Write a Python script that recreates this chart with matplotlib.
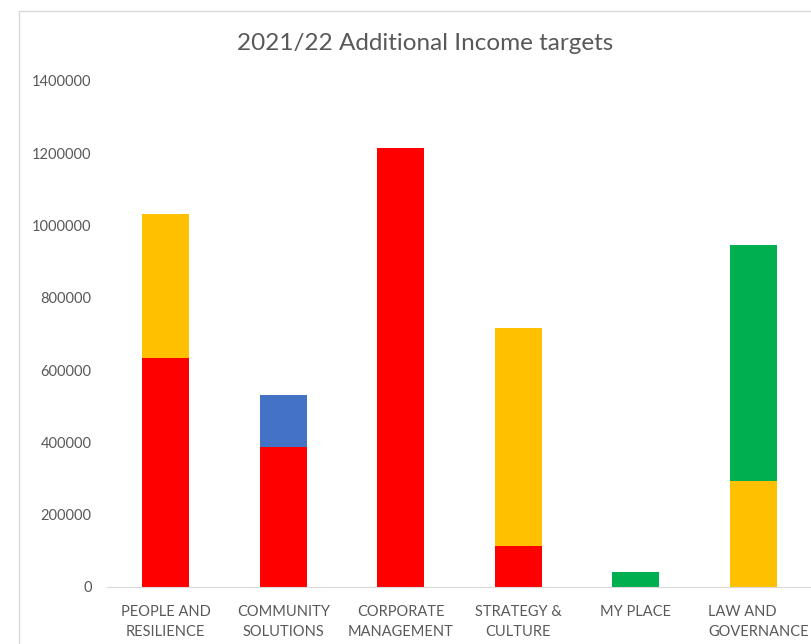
import matplotlib.pyplot as plt
import matplotlib.transforms as mtransforms
from matplotlib.patches import Rectangle
import numpy as np

categories = ["PEOPLE AND\nRESILIENCE", "COMMUNITY\nSOLUTIONS", "CORPORATE\nMANAGEMENT",
              "STRATEGY &\nCULTURE", "MY PLACE", "LAW AND\nGOVERNANCE"]
red = [633000, 387000, 1214000, 113000, 0, 0]
amber = [399000, 0, 0, 603000, 0, 293000]
blue = [0, 144000, 0, 0, 0, 0]
green = [0, 0, 0, 0, 41000, 653000]
yticks = [0, 200000, 400000, 600000, 800000, 1000000, 1200000, 1400000]

plt.rcParams["font.family"] = ["Lato", "DejaVu Sans"]

fig = plt.figure(figsize=(8.11, 6.44), dpi=100)
# chart border (cropped on the right/bottom)
fig.patches.append(Rectangle((19 / 811, -0.1), 1.2, 1 - 11 / 644 + 0.1,
                             transform=fig.transFigure, fill=False,
                             edgecolor="#d9d9d9", linewidth=1))
ax = fig.add_axes([107 / 811, 1 - 587 / 644, 705 / 811, (587 - 81) / 644])

x = np.arange(len(categories))
w = 0.4
bottom = np.zeros(len(categories))
for vals, col in [(red, "#ff0000"), (amber, "#ffc000"), (blue, "#4472c4"), (green, "#00b050")]:
    ax.bar(x, vals, w, bottom=bottom, color=col)
    bottom += np.array(vals)

ax.set_xlim(-0.5, len(categories) - 0.5)
ax.set_ylim(0, 1400000)
ax.set_yticks(yticks)
ax.set_yticklabels([str(v) for v in yticks])
ax.set_xticks(x)
ax.set_xticklabels(categories, linespacing=1.55)
ax.tick_params(axis="both", length=0, labelsize=10.5, labelcolor="#595959")
ax.tick_params(axis="y", pad=11)
ax.tick_params(axis="x", pad=13)
for s in ["top", "right", "left"]:
    ax.spines[s].set_visible(False)
ax.spines["bottom"].set_color("#d9d9d9")

# last label sits against the right edge of the crop
last = ax.get_xticklabels()[-1]
last.set_ha("left")
last.set_multialignment("left")
last.set_transform(last.get_transform() +
                   mtransforms.ScaledTranslation(-45 / 100, 0, fig.dpi_scale_trans))

fig.text(425 / 811, 1 - 44 / 644, "2021/22 Additional Income targets",
         ha="center", va="center", fontsize=17.5, color="#595959")

fig.savefig("out.png", dpi=100)
